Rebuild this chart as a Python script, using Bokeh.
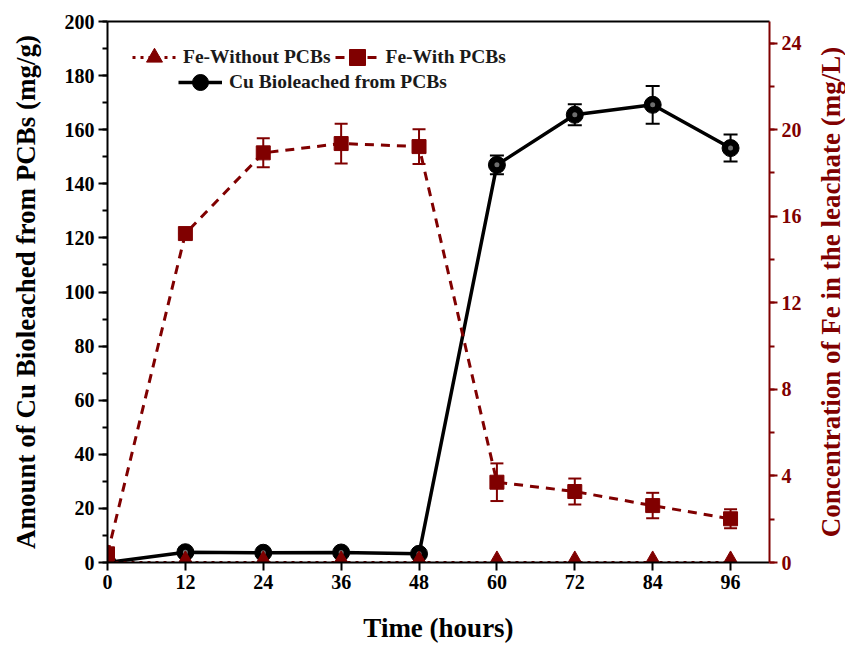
import math
from bokeh.plotting import figure
from bokeh.models import (Range1d, LinearAxis, FixedTicker, SingleIntervalTicker,
                          ColumnDataSource, Whisker, TeeHead, Legend, LegendItem, Label)
from bokeh.embed import file_html
from bokeh.resources import INLINE

# Sampling times (hours)
hours = [0, 12, 24, 36, 48, 60, 72, 84, 96]

# Cu bioleached from PCBs (mg/g) with standard deviations
cu_mean = [0, 3.8, 3.6, 3.7, 3.2, 147.0, 165.5, 169.2, 153.2]
cu_err = [0, 0, 0, 0, 0, 3.5, 3.9, 7.0, 5.0]

# Fe in the leachate (mg/L), with and without PCBs
fe_with = [0.4, 15.2, 18.93, 19.36, 19.22, 3.71, 3.28, 2.63, 2.02]
fe_with_err = [0, 0, 0.67, 0.92, 0.8, 0.87, 0.6, 0.59, 0.44]
fe_without = [0, 0, 0, 0, 0, 0, 0, 0, 0]

x_ticks = [0, 12, 24, 36, 48, 60, 72, 84, 96]

FONT = "Liberation Serif"
RED = "#800000"
TITLE_SIZE = "27px"

cu_src = ColumnDataSource(dict(
    x=hours, y=cu_mean,
    lo=[m - e for m, e in zip(cu_mean, cu_err)],
    hi=[m + e for m, e in zip(cu_mean, cu_err)],
))
few_src = ColumnDataSource(dict(
    x=hours, y=fe_with,
    lo=[m - e for m, e in zip(fe_with, fe_with_err)],
    hi=[m + e for m, e in zip(fe_with, fe_with_err)],
))
fewo_src = ColumnDataSource(dict(x=hours, y=fe_without))

p = figure(width=845, height=645, output_backend="svg", toolbar_location=None,
           x_range=Range1d(0, 102), y_range=Range1d(0, 200),
           min_border_left=107, min_border_right=76,
           min_border_top=21, min_border_bottom=83)
p.extra_y_ranges = {"fe": Range1d(0, 25)}
p.xgrid.visible = False
p.ygrid.visible = False
p.outline_line_color = None
p.background_fill_color = "white"
p.border_fill_color = "white"


def style_axis(ax, color="black", size="20px"):
    ax.axis_line_color = color
    ax.axis_line_width = 2
    ax.major_tick_line_color = color
    ax.major_tick_line_width = 2
    ax.minor_tick_line_color = color
    ax.minor_tick_line_width = 2
    ax.major_tick_in = 0
    ax.major_tick_out = 9
    ax.minor_tick_in = 0
    ax.minor_tick_out = 5
    ax.major_label_text_font = FONT
    ax.major_label_text_font_style = "bold"
    ax.major_label_text_font_size = size
    ax.major_label_text_color = color
    ax.major_label_standoff = 4
    ax.axis_label_text_font = FONT
    ax.axis_label_text_font_style = "bold"
    ax.axis_label_text_font_size = TITLE_SIZE
    ax.axis_label_text_color = color


# bottom axis
xax = p.xaxis[0]
xax.ticker = FixedTicker(ticks=x_ticks)
style_axis(xax)
xax.minor_tick_line_color = None
xax.major_tick_out = 8
xax.axis_label = "Time (hours)"
xax.axis_label_standoff = 21

# left axis
yax = p.yaxis[0]
yax.ticker = SingleIntervalTicker(interval=20, num_minor_ticks=2)
style_axis(yax)
yax.axis_label = "Amount of Cu Bioleached from PCBs (mg/g)"
yax.axis_label_standoff = 21

# right axis for Fe
rax = LinearAxis(y_range_name="fe",
                 ticker=SingleIntervalTicker(interval=4, num_minor_ticks=2))
style_axis(rax, color=RED)
rax.major_tick_out = 8
p.add_layout(rax, "right")

# right-hand title, reading bottom to top
p.add_layout(Label(x=111.5, y=12.5, y_range_name="fe",
                   text="Concentration of Fe in the leachate (mg/L)",
                   angle=math.pi / 2, text_align="center", text_baseline="middle",
                   text_font=FONT, text_font_style="bold", text_font_size=TITLE_SIZE,
                   text_color=RED), "right")

# plain top border
tax = LinearAxis(ticker=FixedTicker(ticks=[]))
tax.axis_line_color = "black"
tax.axis_line_width = 2
tax.major_tick_line_color = None
tax.minor_tick_line_color = None
tax.major_label_text_font_size = "0px"
tax.major_label_standoff = 0
p.add_layout(tax, "above")

# Cu series
cu_line = p.line("x", "y", source=cu_src, line_color="black", line_width=3.5)
p.add_layout(Whisker(source=cu_src, base="x", lower="lo", upper="hi",
                     line_color="black", line_width=2,
                     upper_head=TeeHead(size=14, line_color="black", line_width=2),
                     lower_head=TeeHead(size=14, line_color="black", line_width=2)))
cu_pts = p.scatter("x", "y", source=cu_src, marker="circle", size=17,
                   fill_color="black", line_color="black")
p.scatter("x", "y", source=cu_src, marker="circle", size=5,
          fill_color="#8a8a8a", line_color=None, fill_alpha=0.8)

# Fe with PCBs
few_line = p.line("x", "y", source=few_src, y_range_name="fe",
                  line_color=RED, line_width=3, line_dash="9 7")
p.add_layout(Whisker(source=few_src, base="x", lower="lo", upper="hi",
                     y_range_name="fe", line_color=RED, line_width=2,
                     upper_head=TeeHead(size=13, line_color=RED, line_width=2),
                     lower_head=TeeHead(size=13, line_color=RED, line_width=2)))
few_pts = p.scatter("x", "y", source=few_src, y_range_name="fe", marker="square",
                    size=14, fill_color=RED, line_color=RED)

# Fe without PCBs
fewo_line = p.line("x", "y", source=fewo_src, y_range_name="fe",
                   line_color=RED, line_width=3, line_dash="3 5")
fewo_pts = p.scatter("x", "y", source=fewo_src, y_range_name="fe",
                     marker="triangle", size=20, fill_color=RED, line_color=RED)


def make_legend(items, loc):
    lg = Legend(items=items, location=loc, orientation="horizontal",
                glyph_width=44, glyph_height=40, label_standoff=7, spacing=4,
                padding=0, margin=0, border_line_color=None,
                background_fill_alpha=0,
                label_text_font=FONT, label_text_font_style="bold",
                label_text_font_size="19.5px", label_text_color="#1a1a1a")
    return lg


leg1 = make_legend([
    LegendItem(label="Fe-Without PCBs", renderers=[fewo_line, fewo_pts]),
    LegendItem(label="Fe-With PCBs", renderers=[few_line, few_pts]),
], (25, 485))
leg2 = make_legend([
    LegendItem(label="Cu Bioleached from PCBs", renderers=[cu_line, cu_pts]),
], (71, 460))
p.add_layout(leg1)
p.add_layout(leg2)

open("out.html", "w").write(file_html(p, INLINE))
